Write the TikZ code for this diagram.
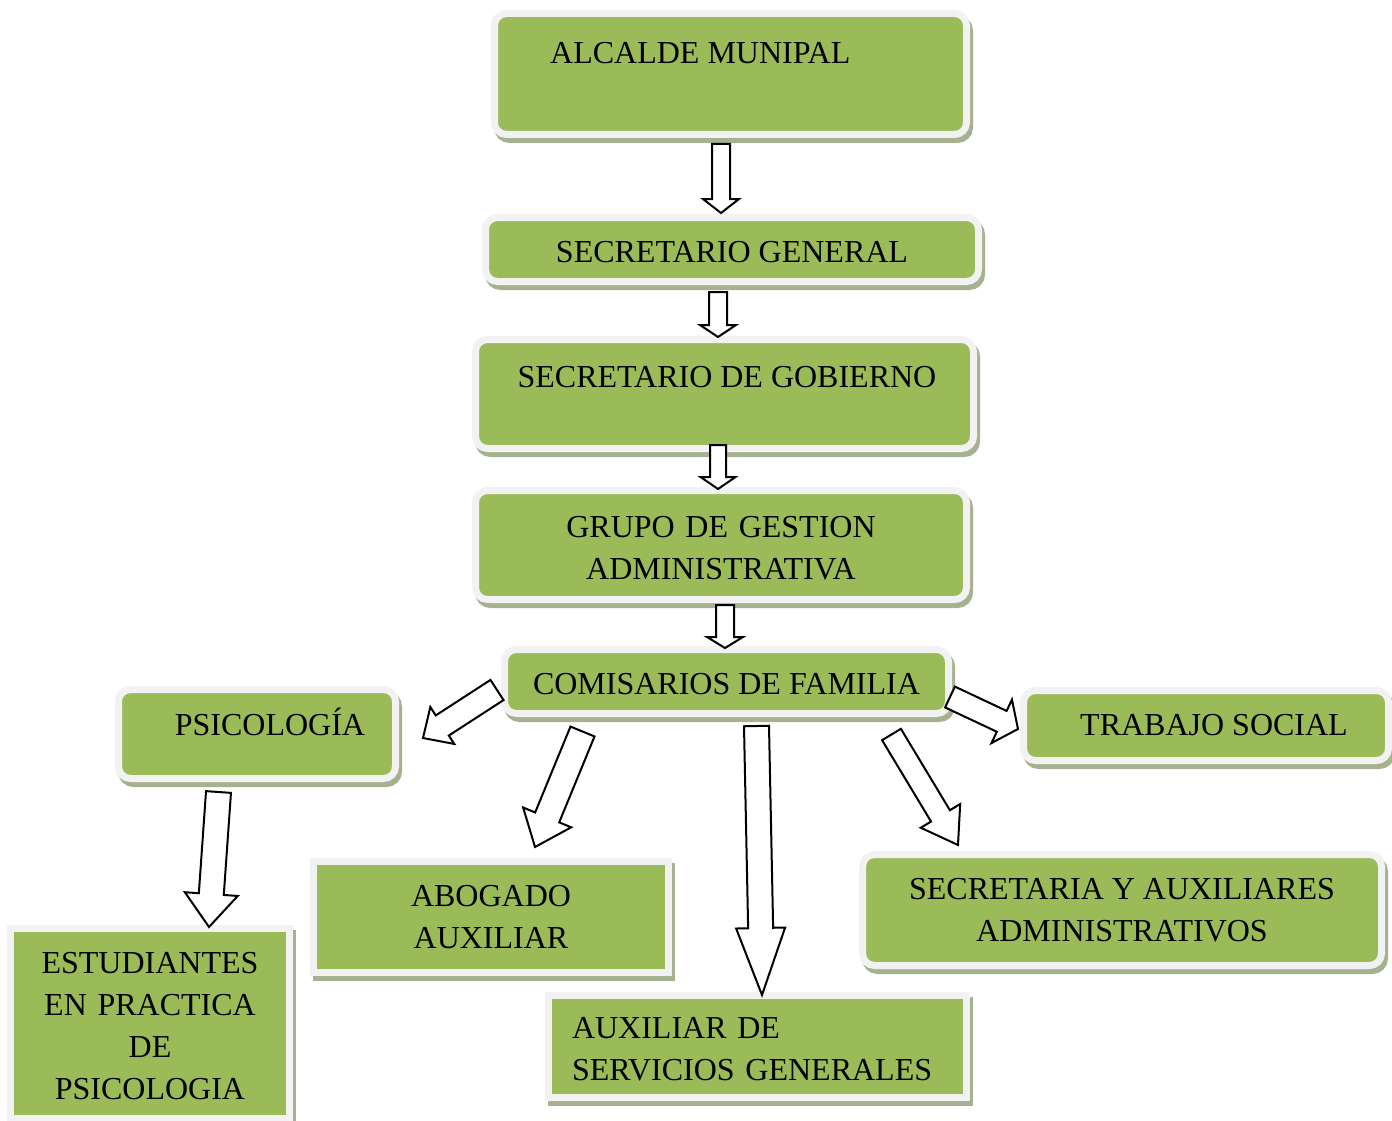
\documentclass[tikz,border=0pt]{standalone}
\usepackage{fontspec}
\setmainfont{Liberation Serif}
\usetikzlibrary{calc,shadows}
\definecolor{olivefill}{RGB}{155,187,89}
\definecolor{rimgrey}{RGB}{242,242,242}
\definecolor{shadegreen}{RGB}{166,178,143}
% block arrow: tail, tip, half shaft, half head, head length
\newcommand{\blockarrow}[5]{%
  \coordinate (ab) at ($(#2)!#5!(#1)$);
  \draw[barrow] ($(#1)!#3!90:(#2)$) -- ($(ab)!#3!-90:(#1)$) -- ($(ab)!#4!-90:(#1)$)
    -- (#2) -- ($(ab)!#4!90:(#1)$) -- ($(ab)!#3!90:(#1)$) -- ($(#1)!#3!-90:(#2)$) -- cycle;}

\begin{document}
\begin{tikzpicture}[x=1pt,y=-1pt,
    box/.style={draw=rimgrey,line width=7pt,fill=olivefill,inner sep=0pt,align=center,
      font=\fontsize{32}{42}\selectfont,
      drop shadow={shadow xshift=3pt,shadow yshift=-5pt,fill=shadegreen,draw=shadegreen,line width=7pt,opacity=1}},
    rbox/.style={box,rounded corners=12pt},
    lower/.style={execute at begin node={\rule{0pt}{27pt}}},
    lbl/.style={inner sep=0pt,font=\fontsize{32}{42}\selectfont},
    barrow/.style={draw=black,fill=white,line width=2pt}]
  \useasboundingbox (0,0) rectangle (1392,1121);
  % main chain
  \node[rbox,minimum width=472pt,minimum height=121pt] (alcalde) at (730.5,74) {};
  \node[lbl,anchor=base west] (alcalde-t) at (550,64) {ALCALDE MUNIPAL};
  \node[rbox,lower,minimum width=493pt,minimum height=64pt] (secgen) at (732,249.5) {SECRETARIO GENERAL};
  \node[rbox,minimum width=498pt,minimum height=109pt] (gobierno) at (724.5,394) {};
  \node[lbl,anchor=base] (gobierno-t) at (727,387) {SECRETARIO DE GOBIERNO};
  \node[rbox,lower,minimum width=491pt,minimum height=109pt,text width=480pt] (grupo) at (721,545) {GRUPO DE GESTION\\ADMINISTRATIVA};
  \node[rbox,lower,minimum width=444pt,minimum height=64pt] (comisarios) at (726.5,681.5) {COMISARIOS DE FAMILIA};
  % branches
  \node[rbox,minimum width=277pt,minimum height=89pt] (psico) at (257,734) {};
  \node[lbl,anchor=base] (psico-t) at (270,735) {PSICOLOGÍA};
  \node[rbox,minimum width=365pt,minimum height=70pt] (trabajo) at (1206,725.5) {\hspace*{16pt}TRABAJO SOCIAL};
  \node[rbox,minimum width=519pt,minimum height=111pt] (secretaria) at (1122,910) {SECRETARIA Y AUXILIARES\\ADMINISTRATIVOS};
  \node[box,minimum width=355pt,minimum height=111pt] (abogado) at (491,917) {ABOGADO\\AUXILIAR};
  \node[box,lower,minimum width=279pt,minimum height=190pt,text width=270pt] (estudiantes) at (150,1023.5) {ESTUDIANTES\\EN PRACTICA\\DE\\PSICOLOGIA};
  \node[box,lower,minimum width=418pt,minimum height=102pt,text width=371pt,align=left] (auxiliar) at (757.5,1046.5) {AUXILIAR DE\\SERVICIOS GENERALES};
  % arrow ends
  \coordinate (alcalde-out) at (721,144);
  \coordinate (secgen-in) at (721,213);
  \coordinate (secgen-out) at (718,292);
  \coordinate (gobierno-in) at (718,337);
  \coordinate (gobierno-out) at (718,445);
  \coordinate (grupo-in) at (718,489);
  \coordinate (grupo-out) at (725,605);
  \coordinate (comisarios-in) at (725,648);
  \coordinate (to-psico) at (497,690);
  \coordinate (psico-in) at (423,738);
  \coordinate (to-abogado) at (582.5,731.5);
  \coordinate (abogado-in) at (535,847);
  \coordinate (to-auxiliar) at (756.5,726);
  \coordinate (auxiliar-in) at (762,995);
  \coordinate (to-trabajo) at (950,697);
  \coordinate (trabajo-in) at (1018,729);
  \coordinate (to-secretaria) at (891.5,734.5);
  \coordinate (secretaria-in) at (958,845);
  \coordinate (psico-out) at (218.5,792);
  \coordinate (estudiantes-in) at (209,927);
  % arrows
  \blockarrow{alcalde-out}{secgen-in}{9pt}{18pt}{14pt}
  \blockarrow{secgen-out}{gobierno-in}{9pt}{18pt}{12pt}
  \blockarrow{gobierno-out}{grupo-in}{8pt}{17.5pt}{12pt}
  \blockarrow{grupo-out}{comisarios-in}{9pt}{18pt}{11pt}
  \blockarrow{to-psico}{psico-in}{12pt}{22pt}{23pt}
  \blockarrow{to-abogado}{abogado-in}{13pt}{26pt}{32pt}
  \blockarrow{to-auxiliar}{auxiliar-in}{12.5pt}{24.5pt}{67pt}
  \blockarrow{to-trabajo}{trabajo-in}{11.5pt}{24pt}{18pt}
  \blockarrow{to-secretaria}{secretaria-in}{11pt}{23pt}{34pt}
  \blockarrow{psico-out}{estudiantes-in}{12.5pt}{26.5pt}{33pt}
\end{tikzpicture}
\end{document}
